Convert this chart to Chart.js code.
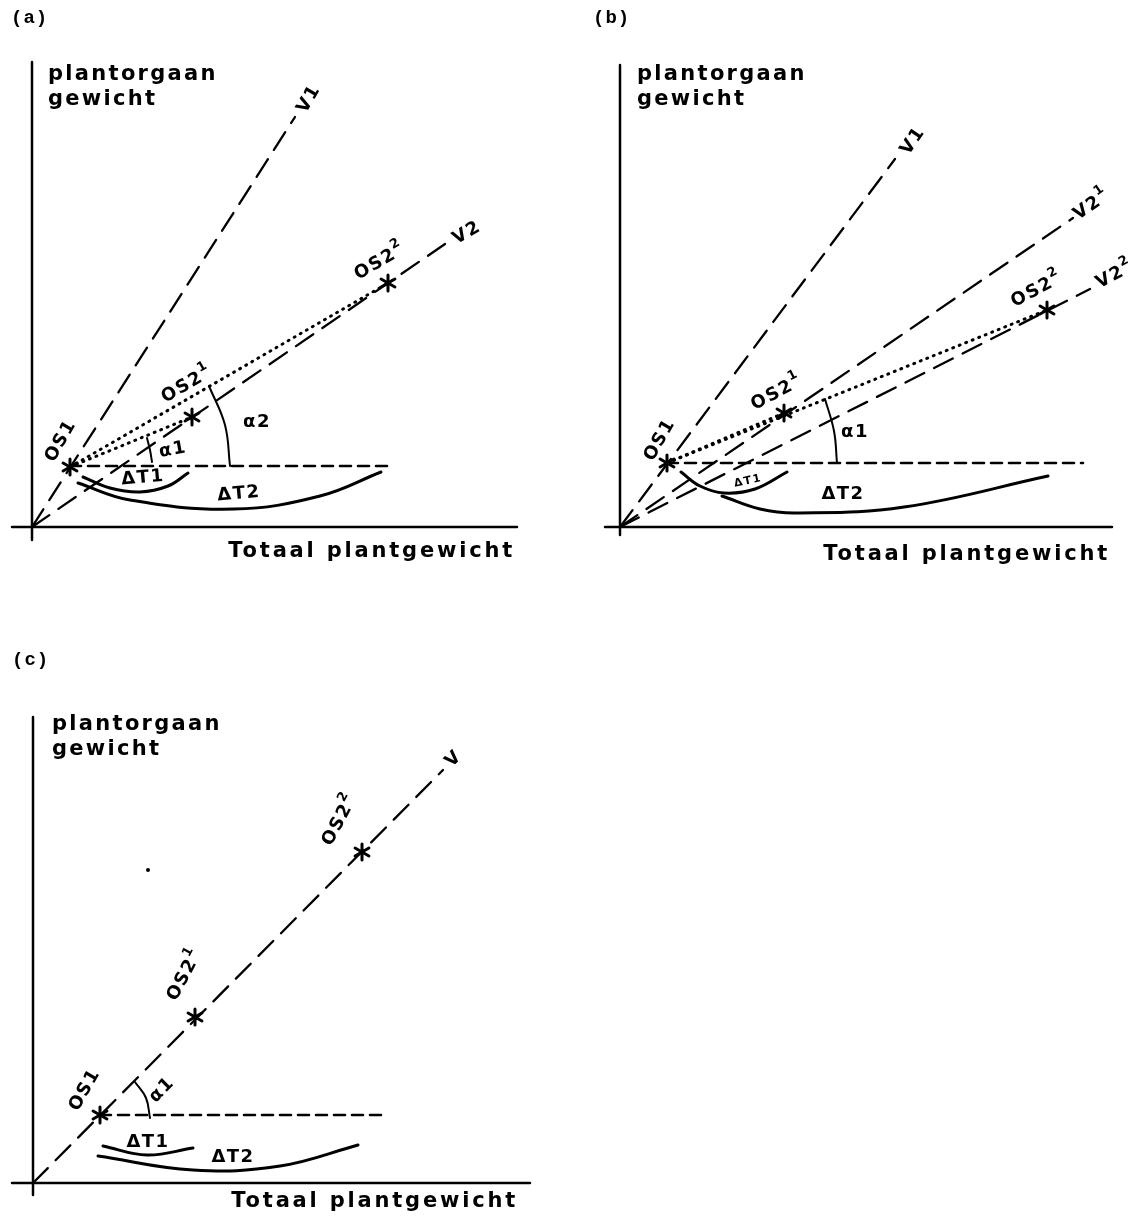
<!DOCTYPE html>
<html>
<head>
<meta charset="utf-8">
<script src="https://cdn.jsdelivr.net/npm/chart.js@4"></script>
<style>
  body { margin: 0; background: #fff; width: 1137px; height: 1225px; position: relative; overflow: hidden; }
  canvas { position: absolute; }
</style>
</head>
<body>
<canvas id="chartA" width="570" height="580" style="left:0;top:0"></canvas>
<canvas id="chartB" width="562" height="580" style="left:575px;top:0"></canvas>
<canvas id="chartC" width="570" height="605" style="left:0;top:620px"></canvas>
<script>
const aAxisY = [[0, -13], [0, 465]];
const aAxisX = [[-20, 0], [485, 0]];
const aStars = [[38, 60], [160, 110], [356, 244]];       // OS1, OS2^1, OS2^2
const aV1 = [[0, 0], [263, 410]];
const aV2 = [[0, 0], [413, 283]];
const aDots1 = [[38, 60], [160, 110]];
const aDots2 = [[38, 60], [356, 244]];
const aLevel = [[38, 61], [358, 61]];
const aAlpha1 = [[120, 65], [118, 77], [115, 89]];
const aAlpha2 = [[198, 61], [193, 102], [177, 141]];
const aDT1 = [[51, 50], [78, 39], [108, 35], [136, 41], [156, 54]];
const aDT2 = [[46, 44], [98, 27], [202, 18], [288, 31], [349, 55]];
const aLabels = [
  ['OS1', 29, 86, -60], ['OS2^1', 155, 142, -30], ['OS2^2', 348, 265, -30],
  ['V1', 277, 428, -60], ['V2', 435, 294, -30],
  ['\u03B11', 141, 77, -10], ['\u03B12', 225, 105, 0],
  ['\u0394T1', 111, 49, -5], ['\u0394T2', 207, 33, -5]
];

// --- panel (b) ---
const bAxisY = [[0, -8], [0, 462]];
const bAxisX = [[-15, 0], [492, 0]];
const bStars = [[47, 64], [164, 114], [427, 217]];
const bV1 = [[0, 0], [275, 368]];
const bV21 = [[0, 0], [453, 309]];
const bV22 = [[0, 0], [470, 238]];
const bDots1 = [[47, 64], [164, 114]];
const bDots2 = [[47, 64], [427, 217]];
const bLevel = [[47, 64], [463, 64]];
const bAlpha1 = [[217, 64], [214, 96], [205, 128]];
const bDT1 = [[61, 55], [80, 41], [104, 34], [135, 38], [167, 55]];
const bDT2 = [[102, 31], [140, 18], [176, 14], [284, 20], [428, 51]];
const bLabels = [
  ['OS1', 40, 87, -60], ['OS2^1', 157, 134, -28], ['OS2^2', 417, 237, -28],
  ['V1', 293, 386, -55], ['V2^1', 472, 322, -35], ['V2^2', 495, 252, -28],
  ['\u03B11', 235, 95, 0], ['\u0394T2', 223, 33, 0]
];

// --- panel (c) ---
const cAxisY = [[0, -12], [0, 466]];
const cAxisX = [[-21, 0], [497, 0]];
const cStars = [[67, 68], [162, 166], [329, 331]];
const cV = [[0, 0], [410, 413]];
const cLevel = [[67, 68], [355, 68]];
const cAlpha1 = [[117, 65], [113, 85], [102, 101]];
const cDT1 = [[70, 37], [114, 28], [160, 35]];
const cDT2 = [[65, 27], [160, 13], [247, 17], [325, 38]];
const cSpeck = [[115, 313]];
const cLabels = [
  ['OS1', 52, 93, -60], ['OS2^1', 152, 208, -62], ['OS2^2', 307, 363, -62],
  ['V', 421, 424, -45], ['\u03B11', 129, 93, -45],
  ['\u0394T1', 115, 41, 0], ['\u0394T2', 200, 26, 0]
];

const AXIS_FONT = "bold 21px 'DejaVu Sans'";
const MARK_SIZE = 18;

function pts(arr) { return arr.map(p => ({ x: p[0], y: p[1] })); }

function line(arr, width, dash, tension) {
  return {
    data: pts(arr), showLine: true, pointRadius: 0,
    borderColor: '#000', borderWidth: width, borderDash: dash || [],
    borderCapStyle: 'round', tension: tension || 0, fill: false
  };
}

// six-armed asterisk like the drawing's
const asterisk = document.createElement('canvas');
asterisk.width = 20; asterisk.height = 20;
(function () {
  const g = asterisk.getContext('2d');
  g.strokeStyle = '#000'; g.lineWidth = 3; g.lineCap = 'round';
  [90, 30, 150].forEach(a => {
    const r = 8, c = Math.cos(a * Math.PI / 180) * r, s = Math.sin(a * Math.PI / 180) * r;
    g.beginPath(); g.moveTo(10 - c, 10 - s); g.lineTo(10 + c, 10 + s); g.stroke();
  });
})();

function stars(arr) {
  return { data: pts(arr), showLine: false, pointStyle: asterisk, pointRadius: 10 };
}

// draws panel letter, axis titles and the labels along the lines
function textPlugin(letter, pos, marks, small) {
  return {
    id: 'texts',
    afterDatasetsDraw(chart) {
      const ctx = chart.ctx, sx = chart.scales.x, sy = chart.scales.y;
      const put = (txt, x, y, rot, font, align, spacing) => {
        ctx.save();
        ctx.translate(sx.getPixelForValue(x), sy.getPixelForValue(y));
        ctx.rotate(rot * Math.PI / 180);
        ctx.font = font;
        ctx.letterSpacing = spacing || '0px';
        ctx.fillStyle = '#000';
        ctx.textAlign = align || 'center';
        ctx.textBaseline = 'middle';
        ctx.fillText(txt, 0, 0);
        ctx.restore();
      };
      // label with optional raised index after '^'
      const mark = (txt, x, y, rot, size) => {
        const parts = txt.split('^');
        ctx.save();
        ctx.translate(sx.getPixelForValue(x), sy.getPixelForValue(y));
        ctx.rotate(rot * Math.PI / 180);
        ctx.fillStyle = '#000';
        ctx.textBaseline = 'middle';
        ctx.letterSpacing = '1.5px';
        const big = "bold " + size + "px 'DejaVu Sans'";
        const sup = "bold " + Math.round(size * 0.72) + "px 'DejaVu Sans'";
        ctx.font = big;
        const w1 = ctx.measureText(parts[0]).width;
        ctx.font = sup;
        const w2 = parts[1] ? ctx.measureText(parts[1]).width : 0;
        let x0 = -(w1 + w2) / 2;
        ctx.font = big; ctx.textAlign = 'left';
        ctx.fillText(parts[0], x0, 0);
        if (parts[1]) { ctx.font = sup; ctx.fillText(parts[1], x0 + w1, -size * 0.45); }
        ctx.restore();
      };
      put(letter, pos[0], pos[1], 0, "bold 19px 'Liberation Mono'", 'left', '1px');
      put('plantorgaan', pos[2], pos[3], 0, AXIS_FONT, 'left', '2.3px');
      put('gewicht', pos[2], pos[3] - 25, 0, AXIS_FONT, 'left', '2.3px');
      put('Totaal plantgewicht', pos[4], pos[5], 0, AXIS_FONT, 'right', '2.8px');
      marks.forEach(m => mark(m[0], m[1], m[2], m[3], MARK_SIZE));
      if (small) mark(small[0], small[1], small[2], small[3], 11);
    }
  };
}

function makeChart(id, datasets, xr, yr, plugin) {
  return new Chart(document.getElementById(id), {
    type: 'scatter',
    data: { datasets: datasets },
    options: {
      responsive: false,
      animation: false,
      layout: { padding: 0, autoPadding: false },
      plugins: { legend: { display: false }, tooltip: { enabled: false } },
      scales: {
        x: { type: 'linear', min: xr[0], max: xr[1], display: false },
        y: { type: 'linear', min: yr[0], max: yr[1], display: false }
      }
    },
    plugins: [plugin]
  });
}

const LONG = [21, 11], SHORT = [11, 7], DOT = [1, 6];

makeChart('chartA', [
  line(aAxisY, 2.5), line(aAxisX, 2.5),
  line(aV1, 2.3, LONG), line(aV2, 2.3, LONG),
  line(aDots1, 3, DOT), line(aDots2, 3, DOT),
  line(aLevel, 2.6, SHORT),
  line(aAlpha1, 2, [], 0.4), line(aAlpha2, 2, [], 0.4),
  line(aDT1, 3, [], 0.4), line(aDT2, 3, [], 0.4),
  stars(aStars)
], [-32, 538], [-53, 527], textPlugin('(a)', [-21, 509, 16, 452, 483, -25], aLabels));

makeChart('chartB', [
  line(bAxisY, 2.5), line(bAxisX, 2.5),
  line(bV1, 2.3, LONG), line(bV21, 2.3, LONG), line(bV22, 2.3, LONG),
  line(bDots1, 3, DOT), line(bDots2, 3, DOT),
  line(bLevel, 2.6, SHORT),
  line(bAlpha1, 2, [], 0.4),
  line(bDT1, 3, [], 0.4), line(bDT2, 3, [], 0.4),
  stars(bStars)
], [-45, 517], [-53, 527], textPlugin('(b)', [-27, 509, 17, 452, 490, -28], bLabels, ['\u0394T1', 128, 46, -12]));

makeChart('chartC', [
  line(cAxisY, 2.5), line(cAxisX, 2.5),
  line(cV, 2.3, LONG),
  line(cLevel, 2.6, SHORT),
  line(cAlpha1, 2, [], 0.4),
  line(cDT1, 3, [], 0.4), line(cDT2, 3, [], 0.4),
  stars(cStars),
  { data: pts(cSpeck), showLine: false, pointRadius: 2, pointBackgroundColor: '#000', pointBorderWidth: 0 }
], [-33, 537], [-42, 563], textPlugin('(c)', [-21, 523, 19, 458, 485, -19], cLabels));
</script>
</body>
</html>
